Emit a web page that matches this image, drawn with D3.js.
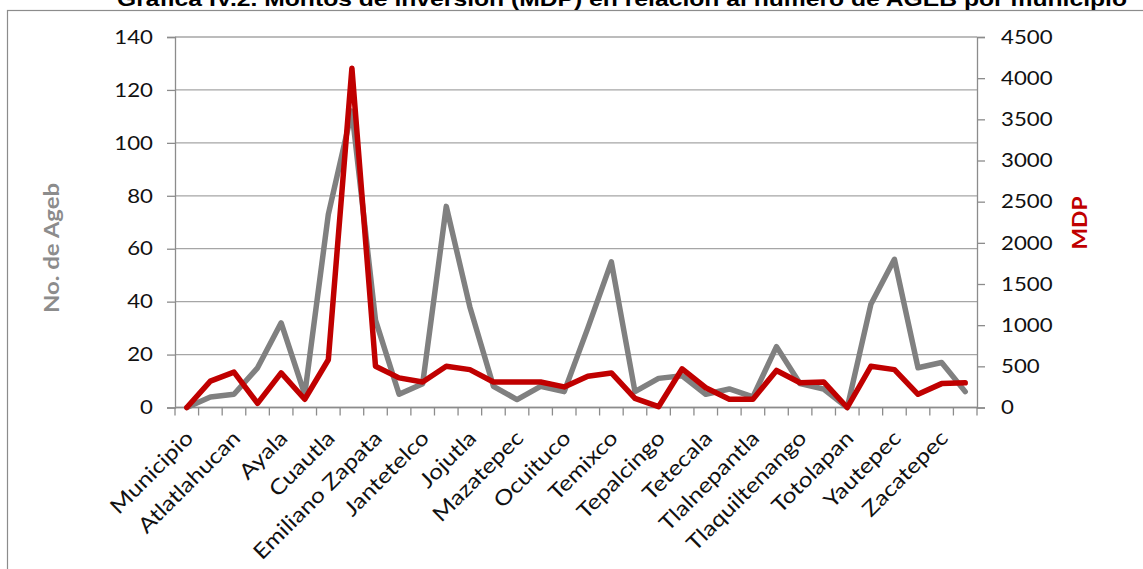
<!DOCTYPE html>
<html>
<head>
<meta charset="utf-8">
<script src="https://cdn.jsdelivr.net/npm/d3@7"></script>
<style>
  html, body { margin: 0; padding: 0; background: #fff; }
  svg { display: block; }
</style>
</head>
<body>
<svg id="chart" width="1143" height="569"></svg>
<script>
const categories = ["Municipio","Amacuzac","Atlatlahucan","Axochiapan","Ayala","Coatlán del Río","Cuautla","Cuernavaca","Emiliano Zapata","Huitzilac","Jantetelco","Jiutepec","Jojutla","Jonacatepec","Mazatepec","Miacatlán","Ocuituco","Puente de Ixtla","Temixco","Temoac","Tepalcingo","Tepoztlán","Tetecala","Tetela del Volcán","Tlalnepantla","Tlaltizapán","Tlaquiltenango","Tlayacapan","Totolapan","Xochitepec","Yautepec","Yecapixtla","Zacatepec","Zacualpan"];
const agebValues = [0,4,5,15,32,5,73,112,33,5,9,76,38,8,3,8,6,30,55,6,11,12,5,7,4,23,9,7,0,39,56,15,17,6];
const mdpValues = [0,320,430,50,420,100,580,4120,500,360,310,500,460,310,310,310,250,380,420,110,10,470,240,100,100,450,300,310,0,500,460,160,290,300];
const leftTicks = [0,20,40,60,80,100,120,140];
const rightTicks = [0,500,1000,1500,2000,2500,3000,3500,4000,4500];
const titleText = "Gráfica IV.2. Montos de inversión (MDP) en relación al número de AGEB por municipio";
const leftTitle = "No. de Ageb";
const rightTitle = "MDP";

const svg = d3.select("#chart");
const FONT = "Lato, 'Open Sans', sans-serif";
const STRETCH = 1.14;

// widen glyphs horizontally (along the text direction), keeping the anchor point fixed
function stretch(sel, k) {
  sel.each(function() {
    const len = this.getComputedTextLength();
    if (len <= 0) return;
    const newLen = len * (k || STRETCH);
    const anchor = getComputedStyle(this).textAnchor;
    const x0 = +(this.getAttribute("x") || 0);
    let xs = x0;
    if (anchor === "end") xs = x0 - newLen;
    else if (anchor === "middle") xs = x0 - newLen / 2;
    d3.select(this)
      .attr("text-anchor", "start")
      .style("text-anchor", "start")
      .attr("x", xs)
      .attr("textLength", newLen)
      .attr("lengthAdjust", "spacingAndGlyphs");
  });
}

const plot = { left: 175, right: 977, top: 37, bottom: 407.5 };

const x = d3.scaleBand().domain(categories).range([plot.left, plot.right]).paddingInner(0).paddingOuter(0);
const yL = d3.scaleLinear().domain([0, 140]).range([plot.bottom, plot.top]);
const yR = d3.scaleLinear().domain([0, 4500]).range([plot.bottom, plot.top]);
const cx = d => x(d) + x.bandwidth() / 2;

// outer border
svg.append("rect")
  .attr("x", 7.5).attr("y", 10.5)
  .attr("width", 1150).attr("height", 570)
  .attr("fill", "none").attr("stroke", "#8c8c8c").attr("stroke-width", 1.2);

// title (clipped at top in the reference)
const title = svg.append("text")
  .attr("x", 117).attr("y", 6)
  .attr("font-family", "'Liberation Sans', Arial, sans-serif")
  .attr("font-weight", "bold").attr("font-size", 21)
  .attr("fill", "#000")
  .text(titleText);
title.attr("textLength", 1010).attr("lengthAdjust", "spacingAndGlyphs");

// gridlines
svg.append("g").selectAll("line").data(leftTicks).join("line")
  .attr("x1", plot.left).attr("x2", plot.right)
  .attr("y1", d => yL(d)).attr("y2", d => yL(d))
  .attr("stroke", "#a6a6a6").attr("stroke-width", 1.3);

// left axis
const gL = svg.append("g").attr("transform", `translate(${plot.left},0)`)
  .call(d3.axisLeft(yL).tickValues(leftTicks).tickSize(8).tickPadding(14).tickFormat(d3.format("d")));
// right axis
const gR = svg.append("g").attr("transform", `translate(${plot.right},0)`)
  .call(d3.axisRight(yR).tickValues(rightTicks).tickSize(8).tickPadding(16).tickFormat(d3.format("d")));
// bottom axis
const gB = svg.append("g").attr("transform", `translate(0,${plot.bottom})`)
  .call(d3.axisBottom(x).tickSize(0).tickFormat((d, i) => i % 2 === 0 ? d : ""));

[gL, gR, gB].forEach(g => {
  g.select(".domain").attr("stroke", "#8c8c8c").attr("stroke-width", 1.3);
  g.selectAll(".tick line").attr("stroke", "#8c8c8c").attr("stroke-width", 1.3);
  g.selectAll("text").attr("font-family", FONT).attr("font-size", 19.5).attr("fill", "#111");
});
gB.select(".domain").attr("d", `M${plot.left},0H${plot.right}`);

// category boundary ticks on x axis
const bounds = categories.map(c => x(c)).concat([plot.right]);
gB.append("g").selectAll("line").data(bounds).join("line")
  .attr("x1", d => d).attr("x2", d => d).attr("y1", 0).attr("y2", 8)
  .attr("stroke", "#8c8c8c").attr("stroke-width", 1.3);

gB.selectAll(".tick text")
  .attr("font-size", 21)
  .attr("text-anchor", "end")
  .attr("dy", 0).attr("y", 0)
  .attr("transform", `translate(${x.bandwidth()/2 - 4},32) rotate(-45)`)
  .attr("x", 0);

stretch(gL.selectAll("text"));
stretch(gR.selectAll("text"));
stretch(gB.selectAll(".tick text").filter(function(){ return this.textContent.length > 0; }), 1.17);

// axis titles
const tL = svg.append("text")
  .attr("transform", "translate(59,248) rotate(-90)")
  .attr("text-anchor", "middle")
  .attr("font-family", FONT).attr("font-weight", "bold").attr("font-size", 21)
  .attr("fill", "#8c8c8c").text(leftTitle);
stretch(tL);
const tR = svg.append("text")
  .attr("transform", "translate(1087,223) rotate(-90)")
  .attr("text-anchor", "middle")
  .attr("font-family", FONT).attr("font-weight", "bold").attr("font-size", 20)
  .attr("fill", "#c00000").text(rightTitle);
stretch(tR);

// lines
const lineL = d3.line().x((d, i) => cx(categories[i])).y(d => yL(d));
const lineR = d3.line().x((d, i) => cx(categories[i])).y(d => yR(d));

svg.append("path").datum(agebValues)
  .attr("d", lineL).attr("fill", "none")
  .attr("stroke", "#808080").attr("stroke-width", 5.5)
  .attr("stroke-linejoin", "round").attr("stroke-linecap", "round");

svg.append("path").datum(mdpValues)
  .attr("d", lineR).attr("fill", "none")
  .attr("stroke", "#c00000").attr("stroke-width", 5.5)
  .attr("stroke-linejoin", "round").attr("stroke-linecap", "round");
</script>
</body>
</html>
